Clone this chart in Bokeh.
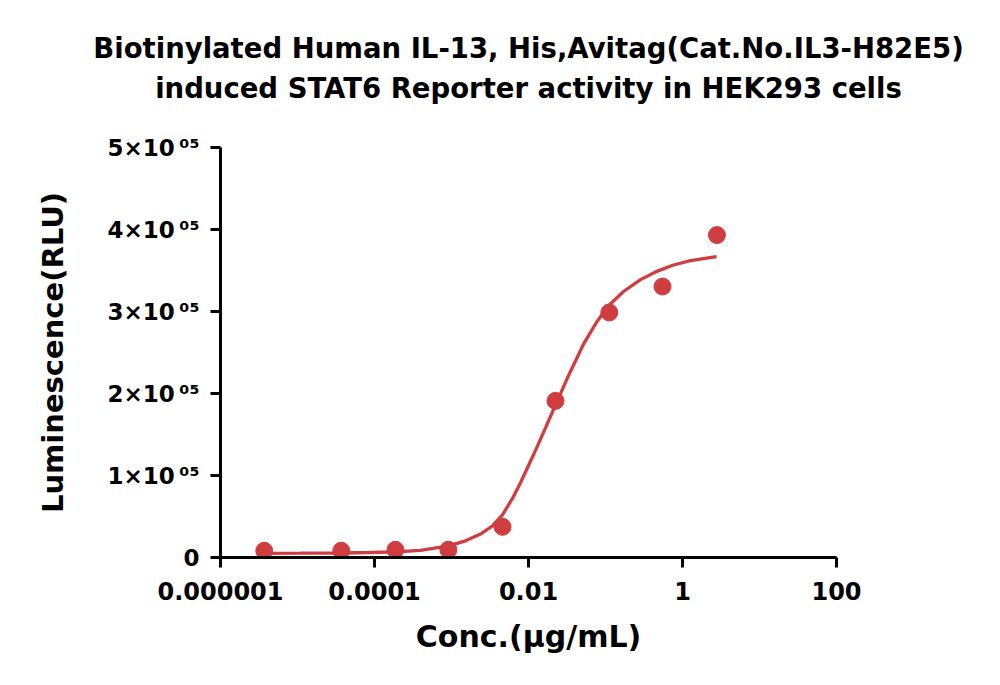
from bokeh.plotting import figure
from bokeh.models import Range1d, FixedTicker, Title
from bokeh.embed import file_html
from bokeh.resources import INLINE

# ---- data ----
title_lines = ["Biotinylated Human IL-13, His,Avitag(Cat.No.IL3-H82E5)",
               "induced STAT6 Reporter activity in HEK293 cells"]
x_label = "Conc.(\u00b5g/mL)"
y_label = "Luminescence(RLU)"

conc = [3.7e-6, 3.7e-5, 1.87e-4, 9.1e-4, 4.6e-3, 0.0224, 0.112, 0.55, 2.8]
rlu = [8200, 8200, 9400, 9400, 37400, 191000, 298800, 330500, 393200]

fit_x = [3.73e-6, 1.09e-5, 3.73e-5, 8.87e-5, 1.875e-4, 3.96e-4, 9.14e-4, 1.52e-3,
         2.38e-3, 3.41e-3, 4.59e-3, 6.19e-3, 7.87e-3, 0.01161, 0.01663, 0.02244,
         0.03209, 0.05176, 0.07638, 0.1094, 0.1714, 0.285, 0.473, 0.763, 1.27, 2.77]
fit_y = [5120, 5240, 5490, 6100, 6950, 8780, 14270, 20370, 28540, 38660, 51950,
         72070, 91100, 125240, 158170, 186220, 219150, 260120, 286830, 306950,
         324390, 338900, 349270, 356700, 362070, 366830]

x_ticks = [1e-6, 1e-4, 1e-2, 1, 100]
x_tick_labels = ["0.000001", "0.0001", "0.01", "1", "100"]
y_ticks = [0, 100000, 200000, 300000, 400000, 500000]
y_tick_labels = ["0",
                 "1\u00d710\u2009\u2070\u2075",
                 "2\u00d710\u2009\u2070\u2075",
                 "3\u00d710\u2009\u2070\u2075",
                 "4\u00d710\u2009\u2070\u2075",
                 "5\u00d710\u2009\u2070\u2075"]

RED = "#CF3D40"
FONT = "DejaVu Sans"

p = figure(width=1000, height=685, x_axis_type="log",
           x_range=Range1d(1e-6, 100), y_range=Range1d(0, 500000),
           output_backend="svg", toolbar_location=None, title=None,
           min_border_left=220, min_border_right=164,
           min_border_top=147, min_border_bottom=128)
p.outline_line_color = None
p.grid.visible = False
p.background_fill_color = "white"
p.border_fill_color = "white"

# spacer between plot and title block, then the two title lines
spacer = Title(text="\u00a0", align="center", text_font=FONT,
               text_font_size="10px", standoff=28)
t2 = Title(text=title_lines[1], align="center", text_font=FONT,
           text_font_size="27.5px", text_font_style="bold", text_color="black",
           standoff=6)
t1 = Title(text=title_lines[0], align="center", text_font=FONT,
           text_font_size="27.5px", text_font_style="bold", text_color="black",
           standoff=6)
p.add_layout(spacer, "above")
p.add_layout(t2, "above")
p.add_layout(t1, "above")

# axes
for ax in (p.xaxis[0], p.yaxis[0]):
    ax.axis_line_width = 3
    ax.axis_line_color = "black"
    ax.major_tick_line_width = 3
    ax.major_tick_line_color = "black"
    ax.major_tick_out = 10
    ax.major_tick_in = 0
    ax.minor_tick_line_color = None
    ax.major_label_text_font = FONT
    ax.major_label_text_font_style = "bold"
    ax.major_label_text_color = "black"
    ax.axis_label_text_font = FONT
    ax.axis_label_text_font_style = "bold"
    ax.axis_label_text_color = "black"

xa = p.xaxis[0]
xa.ticker = FixedTicker(ticks=x_ticks, minor_ticks=[])
xa.major_label_overrides = {t: l for t, l in zip(x_ticks, x_tick_labels)}
xa.major_label_text_font_size = "24px"
xa.major_label_standoff = 14
xa.axis_label = x_label
xa.axis_label_text_font_size = "30px"
xa.axis_label_standoff = 16

ya = p.yaxis[0]
ya.ticker = FixedTicker(ticks=y_ticks, minor_ticks=[])
ya.major_label_overrides = {t: l for t, l in zip(y_ticks, y_tick_labels)}
ya.major_label_text_font_size = "23px"
ya.major_label_standoff = 11
ya.axis_label = y_label
ya.axis_label_text_font_size = "29px"
ya.axis_label_standoff = 34

# fitted curve and data points
p.line(fit_x, fit_y, line_color=RED, line_width=3.3)
p.scatter(conc, rlu, size=17, fill_color=RED, line_color=RED)

open("out.html", "w").write(file_html(p, INLINE))
